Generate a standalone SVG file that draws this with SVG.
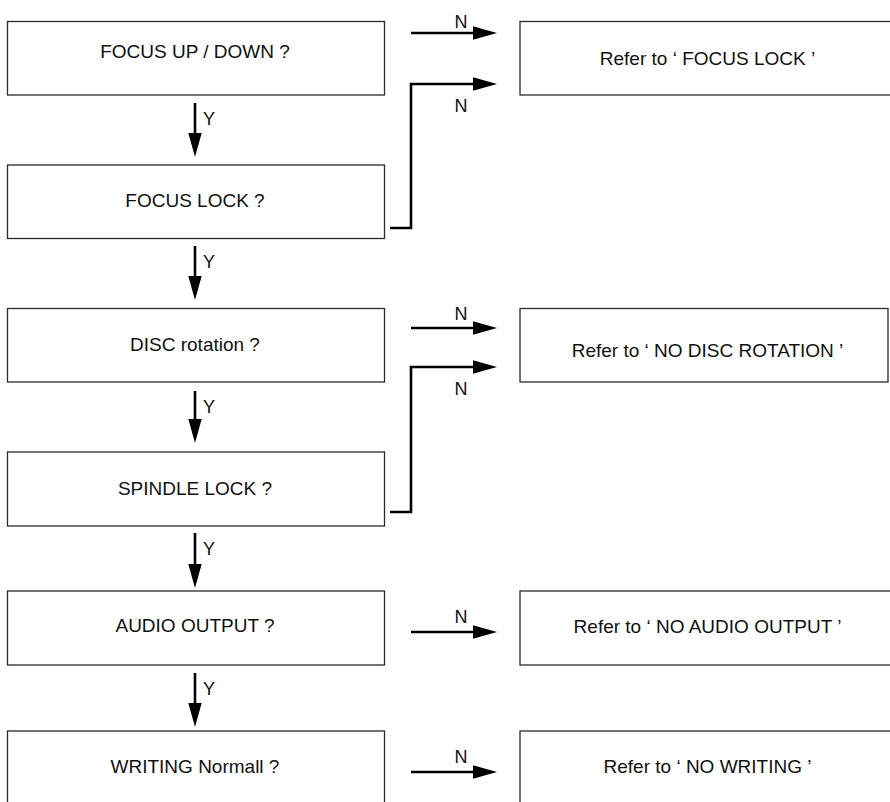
<svg xmlns="http://www.w3.org/2000/svg" width="890" height="802" viewBox="0 0 890 802">
  <style>
    .box { fill: #ffffff; stroke: #2a2a2a; stroke-width: 1.3; }
    .txt { font-family: "Liberation Sans", Arial, sans-serif; font-size: 19px; fill: #111111; text-anchor: middle; }
    .lbl { font-family: "Liberation Sans", Arial, sans-serif; font-size: 18px; fill: #111111; }
    .lbl-c { text-anchor: middle; }
    .flow { fill: none; stroke: #000000; stroke-width: 2.6; stroke-linejoin: miter; }
  </style>
  <defs>
    <marker id="head" markerUnits="userSpaceOnUse" markerWidth="24" markerHeight="14" viewBox="0 -7 24 14" refX="2" refY="0" orient="auto">
      <path d="M0,-6.7 L24,0 L0,6.7 Z" fill="#000000"/>
    </marker>
  </defs>

  <rect width="890" height="802" fill="#ffffff"/>

  <!-- decision column -->
  <g id="focus-up-down">
    <rect class="box" x="7.5" y="21.5" width="377" height="73.5"/>
    <text class="txt" x="195" y="58">FOCUS UP / DOWN ?</text>
  </g>
  <g id="focus-lock">
    <rect class="box" x="7.5" y="165" width="377" height="73.5"/>
    <text class="txt" x="195" y="207">FOCUS LOCK ?</text>
  </g>
  <g id="disc-rotation">
    <rect class="box" x="7.5" y="308.5" width="377" height="73.5"/>
    <text class="txt" x="195" y="351">DISC rotation ?</text>
  </g>
  <g id="spindle-lock">
    <rect class="box" x="7.5" y="452" width="377" height="74"/>
    <text class="txt" x="195" y="495">SPINDLE LOCK ?</text>
  </g>
  <g id="audio-output">
    <rect class="box" x="7.5" y="591" width="377" height="74"/>
    <text class="txt" x="195" y="632">AUDIO OUTPUT ?</text>
  </g>
  <g id="writing-normal">
    <rect class="box" x="7.5" y="731" width="377" height="74"/>
    <text class="txt" x="195" y="773">WRITING Normall ?</text>
  </g>

  <!-- referral column -->
  <g id="ref-focus-lock">
    <rect class="box" x="520" y="21.5" width="371" height="73.5"/>
    <text class="txt" x="707.5" y="65">Refer to ‘ FOCUS LOCK ’</text>
  </g>
  <g id="ref-no-disc-rotation">
    <rect class="box" x="520" y="308.5" width="368" height="73.5"/>
    <text class="txt" x="707.5" y="357">Refer to ‘ NO DISC ROTATION ’</text>
  </g>
  <g id="ref-no-audio-output">
    <rect class="box" x="520" y="591" width="371" height="74"/>
    <text class="txt" x="707.5" y="633">Refer to ‘ NO AUDIO OUTPUT ’</text>
  </g>
  <g id="ref-no-writing">
    <rect class="box" x="520" y="731" width="371" height="74"/>
    <text class="txt" x="707.5" y="773">Refer to ‘ NO WRITING ’</text>
  </g>

  <!-- connectors -->
  <g id="connectors">
    <path class="flow" d="M195,103 V135" marker-end="url(#head)"/>
    <path class="flow" d="M195,246 V278" marker-end="url(#head)"/>
    <path class="flow" d="M195,391 V421" marker-end="url(#head)"/>
    <path class="flow" d="M195,533 V566" marker-end="url(#head)"/>
    <path class="flow" d="M195,673 V705" marker-end="url(#head)"/>

    <path class="flow" d="M411,33 H475" marker-end="url(#head)"/>
    <path class="flow" d="M390,228 H411 V84 H475" marker-end="url(#head)"/>
    <path class="flow" d="M411,328 H475" marker-end="url(#head)"/>
    <path class="flow" d="M390,512 H411 V367 H475" marker-end="url(#head)"/>
    <path class="flow" d="M411,632 H475" marker-end="url(#head)"/>
    <path class="flow" d="M411,772 H475" marker-end="url(#head)"/>

    <text class="lbl" x="203" y="125">Y</text>
    <text class="lbl" x="203" y="268">Y</text>
    <text class="lbl" x="203" y="413">Y</text>
    <text class="lbl" x="203" y="555">Y</text>
    <text class="lbl" x="203" y="695">Y</text>

    <text class="lbl lbl-c" x="461" y="28">N</text>
    <text class="lbl lbl-c" x="461" y="112">N</text>
    <text class="lbl lbl-c" x="461" y="320">N</text>
    <text class="lbl lbl-c" x="461" y="395">N</text>
    <text class="lbl lbl-c" x="461" y="623">N</text>
    <text class="lbl lbl-c" x="461" y="763">N</text>
  </g>
</svg>
